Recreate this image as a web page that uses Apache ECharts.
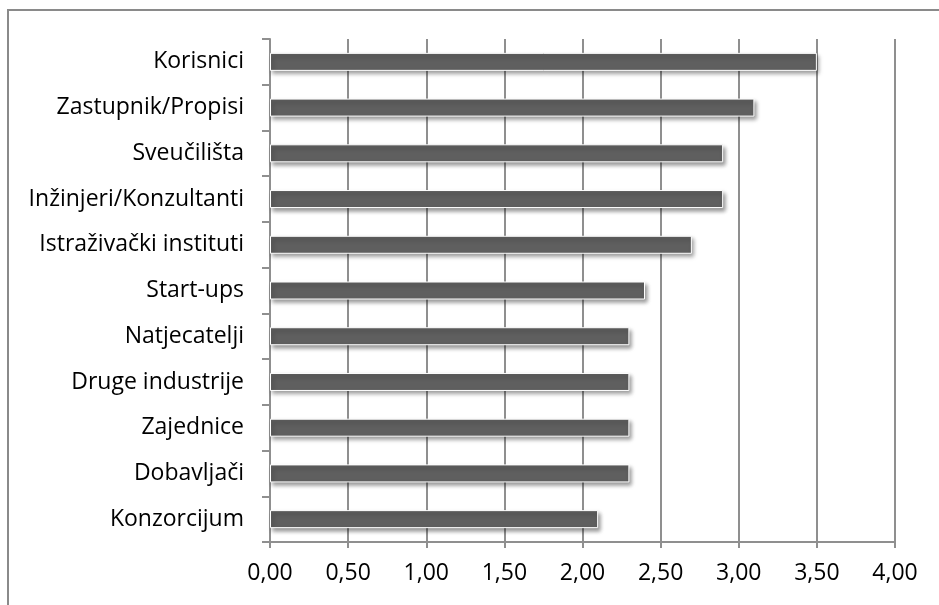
<!DOCTYPE html>
<html>
<head>
<meta charset="utf-8">
<script src="https://cdn.jsdelivr.net/npm/echarts@6/dist/echarts.min.js"></script>
<style>html,body{margin:0;padding:0;background:#fff}#c{width:939px;height:605px}</style>
</head>
<body>
<div id="c"></div>
<script>
const categories = ["Korisnici","Zastupnik/Propisi","Sveučilišta","Inžinjeri/Konzultanti","Istraživački instituti","Start-ups","Natjecatelji","Druge industrije","Zajednice","Dobavljači","Konzorcijum"];
const values = [3.5, 3.1, 2.9, 2.9, 2.7, 2.4, 2.3, 2.3, 2.3, 2.3, 2.1];
const xMin = 0, xMax = 4, xStep = 0.5;

const chart = echarts.init(document.getElementById('c'));
const font = '"Open Sans", Lato, sans-serif';
chart.setOption({
  animation: false,
  graphic: [{type:'rect', shape:{x:8,y:10,width:960,height:640}, style:{fill:'none', stroke:'#8a8a8a', lineWidth:2}}],
  grid: {left: 270, right: 44, top: 39, bottom: 63, containLabel: false},
  xAxis: {
    type: 'value', min: xMin, max: xMax, interval: xStep,
    axisLine: {show: true, lineStyle: {color: '#8f8f8f', width: 2}},
    axisTick: {show: true, length: 6, lineStyle: {color: '#8f8f8f', width: 2}},
    splitLine: {show: true, lineStyle: {color: '#8f8f8f', width: 2}},
    axisLabel: {formatter: v => v.toFixed(2).replace('.', ','), color: '#000', fontSize: 23, fontFamily: font, margin: 20}
  },
  yAxis: {
    type: 'category', data: categories, inverse: true,
    axisLine: {show: true, lineStyle: {color: '#8f8f8f', width: 2}},
    axisTick: {show: true, length: 8, lineStyle: {color: '#8f8f8f', width: 2}},
    axisLabel: {color: '#000', fontSize: 23, fontFamily: font, margin: 26}
  },
  series: [{
    type: 'bar', data: values, barWidth: 18,
    itemStyle: {color: '#5f5f5f', borderColor: '#ffffff', borderWidth: 1,
      shadowColor: 'rgba(0,0,0,0.4)', shadowBlur: 4, shadowOffsetX: 2, shadowOffsetY: 3}
  }]
});
</script>
</body>
</html>
